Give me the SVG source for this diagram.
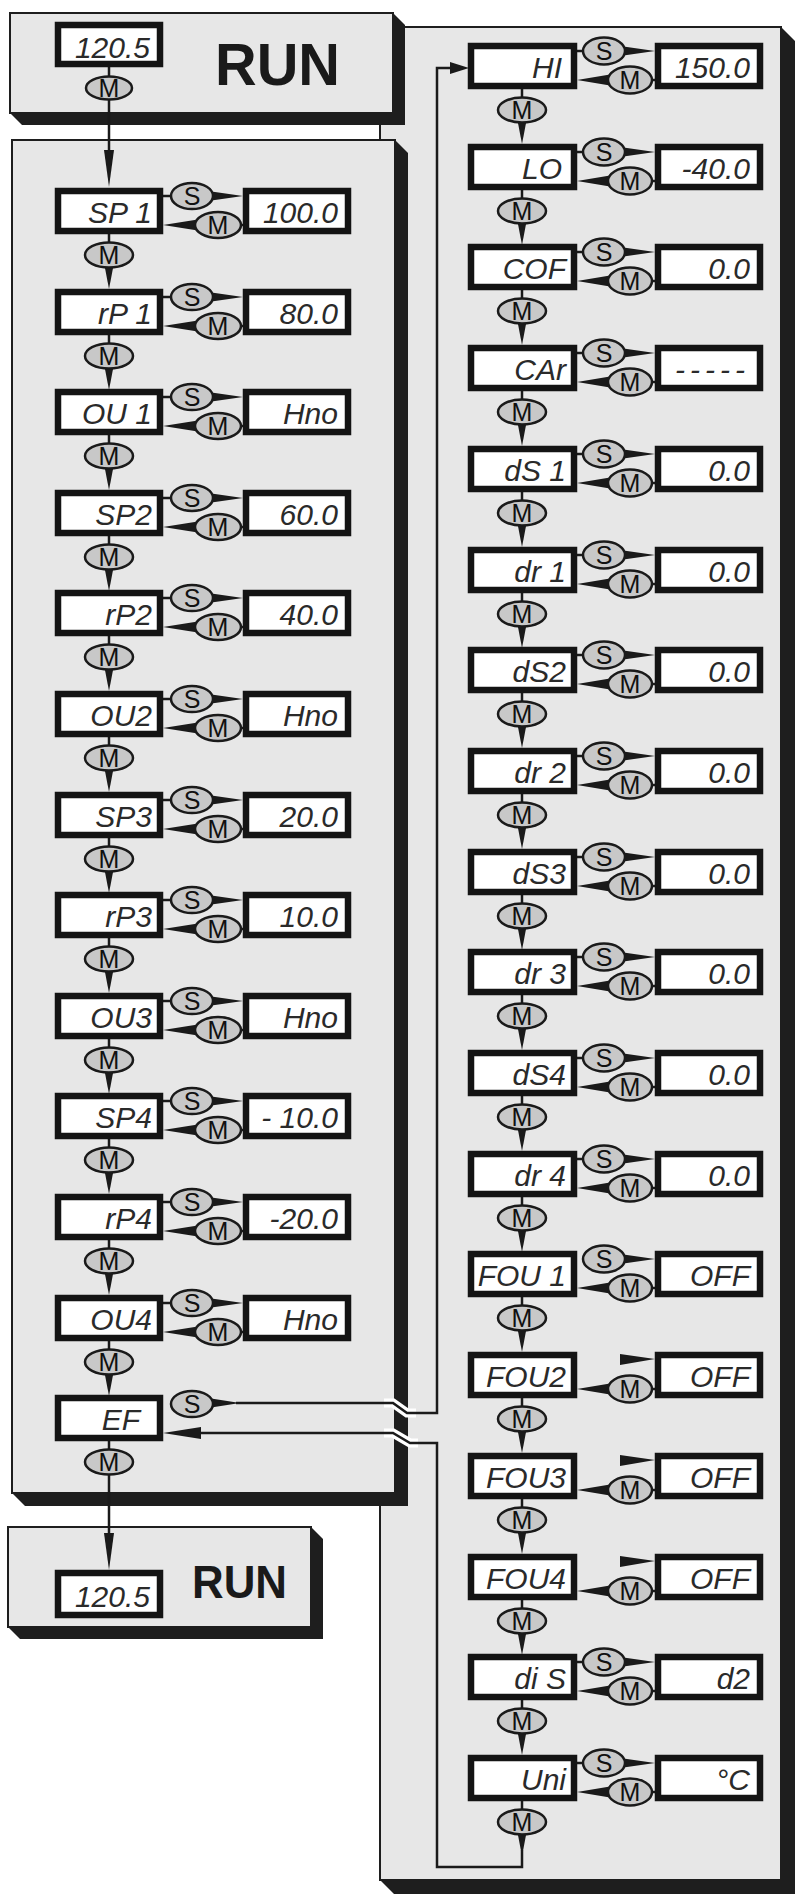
<svg xmlns="http://www.w3.org/2000/svg" width="798" height="1896" viewBox="0 0 798 1896">
<style>
.panel{fill:#e7e7e7;stroke:#1e1e1e;stroke-width:2}
.shadow{fill:#1e1e1e}
.disp{fill:#fff;stroke:#141414;stroke-width:6.5}
.dt{font-family:"Liberation Sans",Arial,sans-serif;font-style:italic;font-size:30px;fill:#2a2a2a;text-anchor:end}
.btn{fill:#c8c8c8;stroke:#1a1a1a;stroke-width:2.5}
.bt{font-family:"Liberation Sans",Arial,sans-serif;font-size:25px;fill:#111;text-anchor:middle}
.ln{stroke:#1a1a1a;stroke-width:2.5;fill:none}
.wd{fill:#1a1a1a}
.halo{stroke:#ffffff;stroke-width:9;fill:none}
.run{font-family:"Liberation Sans",Arial,sans-serif;font-weight:bold;fill:#1a1a1a}
</style>
<rect width="798" height="1896" fill="#ffffff"/>
<g id="panels">
<polygon class="shadow" points="380,1880 394,1894 795,1894 795,41 781,27"/>
<rect id="panel-right" class="panel" x="380" y="27" width="401" height="1853"/>
<polygon class="shadow" points="10,113 22,125 405,125 405,25 393,13"/>
<rect id="panel-run-top" class="panel" x="10" y="13" width="383" height="100"/>
<polygon class="shadow" points="12,1493 25,1506 408,1506 408,153 395,140"/>
<rect id="panel-left" class="panel" x="12" y="140" width="383" height="1353"/>
<polygon class="shadow" points="8,1627 20,1639 323,1639 323,1539 311,1527"/>
<rect id="panel-run-bottom" class="panel" x="8" y="1527" width="303" height="100"/>
</g>
<g id="connectors">
<line class="ln" x1="109" y1="64" x2="109" y2="152"/>
<polygon class="wd" points="104,150 109,187 114,150"/>
<ellipse class="btn" cx="109" cy="88" rx="23" ry="11.5"/>
<text class="bt" x="109" y="97">M</text>
<g id="c-SP1" transform="translate(0,188)"><line class="ln" x1="163" y1="8" x2="172" y2="8"/><polygon class="wd" points="208,3 243,8 208,13"/><polygon class="wd" points="201,31 163,37 201,43"/><line class="ln" x1="240" y1="37" x2="243" y2="37"/><ellipse class="btn" cx="192" cy="8" rx="21" ry="13"/><text class="bt" x="192" y="17">S</text><ellipse class="btn" cx="218" cy="37" rx="23" ry="13"/><text class="bt" x="218" y="46">M</text><line class="ln" x1="109" y1="46" x2="109" y2="56"/><polygon class="wd" points="104,75 109,101 114,75"/><ellipse class="btn" cx="109" cy="67" rx="24" ry="12.5"/><text class="bt" x="109" y="76">M</text></g>
<g id="c-rP1" transform="translate(0,289)"><line class="ln" x1="163" y1="8" x2="172" y2="8"/><polygon class="wd" points="208,3 243,8 208,13"/><polygon class="wd" points="201,31 163,37 201,43"/><line class="ln" x1="240" y1="37" x2="243" y2="37"/><ellipse class="btn" cx="192" cy="8" rx="21" ry="13"/><text class="bt" x="192" y="17">S</text><ellipse class="btn" cx="218" cy="37" rx="23" ry="13"/><text class="bt" x="218" y="46">M</text><line class="ln" x1="109" y1="46" x2="109" y2="56"/><polygon class="wd" points="104,75 109,101 114,75"/><ellipse class="btn" cx="109" cy="67" rx="24" ry="12.5"/><text class="bt" x="109" y="76">M</text></g>
<g id="c-OU1" transform="translate(0,389)"><line class="ln" x1="163" y1="8" x2="172" y2="8"/><polygon class="wd" points="208,3 243,8 208,13"/><polygon class="wd" points="201,31 163,37 201,43"/><line class="ln" x1="240" y1="37" x2="243" y2="37"/><ellipse class="btn" cx="192" cy="8" rx="21" ry="13"/><text class="bt" x="192" y="17">S</text><ellipse class="btn" cx="218" cy="37" rx="23" ry="13"/><text class="bt" x="218" y="46">M</text><line class="ln" x1="109" y1="46" x2="109" y2="56"/><polygon class="wd" points="104,75 109,101 114,75"/><ellipse class="btn" cx="109" cy="67" rx="24" ry="12.5"/><text class="bt" x="109" y="76">M</text></g>
<g id="c-SP2" transform="translate(0,490)"><line class="ln" x1="163" y1="8" x2="172" y2="8"/><polygon class="wd" points="208,3 243,8 208,13"/><polygon class="wd" points="201,31 163,37 201,43"/><line class="ln" x1="240" y1="37" x2="243" y2="37"/><ellipse class="btn" cx="192" cy="8" rx="21" ry="13"/><text class="bt" x="192" y="17">S</text><ellipse class="btn" cx="218" cy="37" rx="23" ry="13"/><text class="bt" x="218" y="46">M</text><line class="ln" x1="109" y1="46" x2="109" y2="56"/><polygon class="wd" points="104,75 109,101 114,75"/><ellipse class="btn" cx="109" cy="67" rx="24" ry="12.5"/><text class="bt" x="109" y="76">M</text></g>
<g id="c-rP2" transform="translate(0,590)"><line class="ln" x1="163" y1="8" x2="172" y2="8"/><polygon class="wd" points="208,3 243,8 208,13"/><polygon class="wd" points="201,31 163,37 201,43"/><line class="ln" x1="240" y1="37" x2="243" y2="37"/><ellipse class="btn" cx="192" cy="8" rx="21" ry="13"/><text class="bt" x="192" y="17">S</text><ellipse class="btn" cx="218" cy="37" rx="23" ry="13"/><text class="bt" x="218" y="46">M</text><line class="ln" x1="109" y1="46" x2="109" y2="56"/><polygon class="wd" points="104,75 109,101 114,75"/><ellipse class="btn" cx="109" cy="67" rx="24" ry="12.5"/><text class="bt" x="109" y="76">M</text></g>
<g id="c-OU2" transform="translate(0,691)"><line class="ln" x1="163" y1="8" x2="172" y2="8"/><polygon class="wd" points="208,3 243,8 208,13"/><polygon class="wd" points="201,31 163,37 201,43"/><line class="ln" x1="240" y1="37" x2="243" y2="37"/><ellipse class="btn" cx="192" cy="8" rx="21" ry="13"/><text class="bt" x="192" y="17">S</text><ellipse class="btn" cx="218" cy="37" rx="23" ry="13"/><text class="bt" x="218" y="46">M</text><line class="ln" x1="109" y1="46" x2="109" y2="56"/><polygon class="wd" points="104,75 109,101 114,75"/><ellipse class="btn" cx="109" cy="67" rx="24" ry="12.5"/><text class="bt" x="109" y="76">M</text></g>
<g id="c-SP3" transform="translate(0,792)"><line class="ln" x1="163" y1="8" x2="172" y2="8"/><polygon class="wd" points="208,3 243,8 208,13"/><polygon class="wd" points="201,31 163,37 201,43"/><line class="ln" x1="240" y1="37" x2="243" y2="37"/><ellipse class="btn" cx="192" cy="8" rx="21" ry="13"/><text class="bt" x="192" y="17">S</text><ellipse class="btn" cx="218" cy="37" rx="23" ry="13"/><text class="bt" x="218" y="46">M</text><line class="ln" x1="109" y1="46" x2="109" y2="56"/><polygon class="wd" points="104,75 109,101 114,75"/><ellipse class="btn" cx="109" cy="67" rx="24" ry="12.5"/><text class="bt" x="109" y="76">M</text></g>
<g id="c-rP3" transform="translate(0,892)"><line class="ln" x1="163" y1="8" x2="172" y2="8"/><polygon class="wd" points="208,3 243,8 208,13"/><polygon class="wd" points="201,31 163,37 201,43"/><line class="ln" x1="240" y1="37" x2="243" y2="37"/><ellipse class="btn" cx="192" cy="8" rx="21" ry="13"/><text class="bt" x="192" y="17">S</text><ellipse class="btn" cx="218" cy="37" rx="23" ry="13"/><text class="bt" x="218" y="46">M</text><line class="ln" x1="109" y1="46" x2="109" y2="56"/><polygon class="wd" points="104,75 109,101 114,75"/><ellipse class="btn" cx="109" cy="67" rx="24" ry="12.5"/><text class="bt" x="109" y="76">M</text></g>
<g id="c-OU3" transform="translate(0,993)"><line class="ln" x1="163" y1="8" x2="172" y2="8"/><polygon class="wd" points="208,3 243,8 208,13"/><polygon class="wd" points="201,31 163,37 201,43"/><line class="ln" x1="240" y1="37" x2="243" y2="37"/><ellipse class="btn" cx="192" cy="8" rx="21" ry="13"/><text class="bt" x="192" y="17">S</text><ellipse class="btn" cx="218" cy="37" rx="23" ry="13"/><text class="bt" x="218" y="46">M</text><line class="ln" x1="109" y1="46" x2="109" y2="56"/><polygon class="wd" points="104,75 109,101 114,75"/><ellipse class="btn" cx="109" cy="67" rx="24" ry="12.5"/><text class="bt" x="109" y="76">M</text></g>
<g id="c-SP4" transform="translate(0,1093)"><line class="ln" x1="163" y1="8" x2="172" y2="8"/><polygon class="wd" points="208,3 243,8 208,13"/><polygon class="wd" points="201,31 163,37 201,43"/><line class="ln" x1="240" y1="37" x2="243" y2="37"/><ellipse class="btn" cx="192" cy="8" rx="21" ry="13"/><text class="bt" x="192" y="17">S</text><ellipse class="btn" cx="218" cy="37" rx="23" ry="13"/><text class="bt" x="218" y="46">M</text><line class="ln" x1="109" y1="46" x2="109" y2="56"/><polygon class="wd" points="104,75 109,101 114,75"/><ellipse class="btn" cx="109" cy="67" rx="24" ry="12.5"/><text class="bt" x="109" y="76">M</text></g>
<g id="c-rP4" transform="translate(0,1194)"><line class="ln" x1="163" y1="8" x2="172" y2="8"/><polygon class="wd" points="208,3 243,8 208,13"/><polygon class="wd" points="201,31 163,37 201,43"/><line class="ln" x1="240" y1="37" x2="243" y2="37"/><ellipse class="btn" cx="192" cy="8" rx="21" ry="13"/><text class="bt" x="192" y="17">S</text><ellipse class="btn" cx="218" cy="37" rx="23" ry="13"/><text class="bt" x="218" y="46">M</text><line class="ln" x1="109" y1="46" x2="109" y2="56"/><polygon class="wd" points="104,75 109,101 114,75"/><ellipse class="btn" cx="109" cy="67" rx="24" ry="12.5"/><text class="bt" x="109" y="76">M</text></g>
<g id="c-OU4" transform="translate(0,1295)"><line class="ln" x1="163" y1="8" x2="172" y2="8"/><polygon class="wd" points="208,3 243,8 208,13"/><polygon class="wd" points="201,31 163,37 201,43"/><line class="ln" x1="240" y1="37" x2="243" y2="37"/><ellipse class="btn" cx="192" cy="8" rx="21" ry="13"/><text class="bt" x="192" y="17">S</text><ellipse class="btn" cx="218" cy="37" rx="23" ry="13"/><text class="bt" x="218" y="46">M</text><line class="ln" x1="109" y1="46" x2="109" y2="56"/><polygon class="wd" points="104,75 109,101 114,75"/><ellipse class="btn" cx="109" cy="67" rx="24" ry="12.5"/><text class="bt" x="109" y="76">M</text></g>
<g id="c-EF">
<path class="halo" d="M384 1403 L393 1403 L407 1413 L416 1413"/>
<path class="halo" d="M384 1433 L393 1433 L410 1443 L418 1443"/>
<path class="ln" d="M236 1403 L393 1403 L407 1413 L437 1413 L437 68 L452 68"/>
<polygon class="wd" points="450,62 469,68 450,74"/>
<polygon class="wd" points="208,1398 240,1403 208,1408"/>
<ellipse class="btn" cx="192" cy="1404" rx="21" ry="13"/><text class="bt" x="192" y="1413">S</text>
<path class="ln" d="M522 1850 L522 1867 L437 1867 L437 1443 L410 1443 L393 1433 L198 1433"/>
<polygon class="wd" points="163,1433 201,1427 201,1439"/>
<line class="ln" x1="109" y1="1437" x2="109" y2="1540"/>
<polygon class="wd" points="104,1533 109,1570 114,1533"/>
<ellipse class="btn" cx="109" cy="1462" rx="24" ry="12.5"/><text class="bt" x="109" y="1471">M</text>
</g>
<g id="c-HI" transform="translate(0,43)"><line class="ln" x1="577" y1="8" x2="584" y2="8"/><polygon class="wd" points="620,3 655,8 620,13"/><polygon class="wd" points="613,31 577,37 613,43"/><line class="ln" x1="651" y1="37" x2="655" y2="37"/><ellipse class="btn" cx="604" cy="8" rx="21" ry="13.5"/><text class="bt" x="604" y="17">S</text><ellipse class="btn" cx="630" cy="37" rx="22" ry="13.5"/><text class="bt" x="630" y="46">M</text><line class="ln" x1="522" y1="46" x2="522" y2="56"/><polygon class="wd" points="517,75 522,101 527,75"/><ellipse class="btn" cx="522" cy="67" rx="24" ry="12.5"/><text class="bt" x="522" y="76">M</text></g>
<g id="c-LO" transform="translate(0,144)"><line class="ln" x1="577" y1="8" x2="584" y2="8"/><polygon class="wd" points="620,3 655,8 620,13"/><polygon class="wd" points="613,31 577,37 613,43"/><line class="ln" x1="651" y1="37" x2="655" y2="37"/><ellipse class="btn" cx="604" cy="8" rx="21" ry="13.5"/><text class="bt" x="604" y="17">S</text><ellipse class="btn" cx="630" cy="37" rx="22" ry="13.5"/><text class="bt" x="630" y="46">M</text><line class="ln" x1="522" y1="46" x2="522" y2="56"/><polygon class="wd" points="517,75 522,101 527,75"/><ellipse class="btn" cx="522" cy="67" rx="24" ry="12.5"/><text class="bt" x="522" y="76">M</text></g>
<g id="c-COF" transform="translate(0,244)"><line class="ln" x1="577" y1="8" x2="584" y2="8"/><polygon class="wd" points="620,3 655,8 620,13"/><polygon class="wd" points="613,31 577,37 613,43"/><line class="ln" x1="651" y1="37" x2="655" y2="37"/><ellipse class="btn" cx="604" cy="8" rx="21" ry="13.5"/><text class="bt" x="604" y="17">S</text><ellipse class="btn" cx="630" cy="37" rx="22" ry="13.5"/><text class="bt" x="630" y="46">M</text><line class="ln" x1="522" y1="46" x2="522" y2="56"/><polygon class="wd" points="517,75 522,101 527,75"/><ellipse class="btn" cx="522" cy="67" rx="24" ry="12.5"/><text class="bt" x="522" y="76">M</text></g>
<g id="c-CAr" transform="translate(0,345)"><line class="ln" x1="577" y1="8" x2="584" y2="8"/><polygon class="wd" points="620,3 655,8 620,13"/><polygon class="wd" points="613,31 577,37 613,43"/><line class="ln" x1="651" y1="37" x2="655" y2="37"/><ellipse class="btn" cx="604" cy="8" rx="21" ry="13.5"/><text class="bt" x="604" y="17">S</text><ellipse class="btn" cx="630" cy="37" rx="22" ry="13.5"/><text class="bt" x="630" y="46">M</text><line class="ln" x1="522" y1="46" x2="522" y2="56"/><polygon class="wd" points="517,75 522,101 527,75"/><ellipse class="btn" cx="522" cy="67" rx="24" ry="12.5"/><text class="bt" x="522" y="76">M</text></g>
<g id="c-dS1" transform="translate(0,446)"><line class="ln" x1="577" y1="8" x2="584" y2="8"/><polygon class="wd" points="620,3 655,8 620,13"/><polygon class="wd" points="613,31 577,37 613,43"/><line class="ln" x1="651" y1="37" x2="655" y2="37"/><ellipse class="btn" cx="604" cy="8" rx="21" ry="13.5"/><text class="bt" x="604" y="17">S</text><ellipse class="btn" cx="630" cy="37" rx="22" ry="13.5"/><text class="bt" x="630" y="46">M</text><line class="ln" x1="522" y1="46" x2="522" y2="56"/><polygon class="wd" points="517,75 522,101 527,75"/><ellipse class="btn" cx="522" cy="67" rx="24" ry="12.5"/><text class="bt" x="522" y="76">M</text></g>
<g id="c-dr1" transform="translate(0,547)"><line class="ln" x1="577" y1="8" x2="584" y2="8"/><polygon class="wd" points="620,3 655,8 620,13"/><polygon class="wd" points="613,31 577,37 613,43"/><line class="ln" x1="651" y1="37" x2="655" y2="37"/><ellipse class="btn" cx="604" cy="8" rx="21" ry="13.5"/><text class="bt" x="604" y="17">S</text><ellipse class="btn" cx="630" cy="37" rx="22" ry="13.5"/><text class="bt" x="630" y="46">M</text><line class="ln" x1="522" y1="46" x2="522" y2="56"/><polygon class="wd" points="517,75 522,101 527,75"/><ellipse class="btn" cx="522" cy="67" rx="24" ry="12.5"/><text class="bt" x="522" y="76">M</text></g>
<g id="c-dS2" transform="translate(0,647)"><line class="ln" x1="577" y1="8" x2="584" y2="8"/><polygon class="wd" points="620,3 655,8 620,13"/><polygon class="wd" points="613,31 577,37 613,43"/><line class="ln" x1="651" y1="37" x2="655" y2="37"/><ellipse class="btn" cx="604" cy="8" rx="21" ry="13.5"/><text class="bt" x="604" y="17">S</text><ellipse class="btn" cx="630" cy="37" rx="22" ry="13.5"/><text class="bt" x="630" y="46">M</text><line class="ln" x1="522" y1="46" x2="522" y2="56"/><polygon class="wd" points="517,75 522,101 527,75"/><ellipse class="btn" cx="522" cy="67" rx="24" ry="12.5"/><text class="bt" x="522" y="76">M</text></g>
<g id="c-dr2" transform="translate(0,748)"><line class="ln" x1="577" y1="8" x2="584" y2="8"/><polygon class="wd" points="620,3 655,8 620,13"/><polygon class="wd" points="613,31 577,37 613,43"/><line class="ln" x1="651" y1="37" x2="655" y2="37"/><ellipse class="btn" cx="604" cy="8" rx="21" ry="13.5"/><text class="bt" x="604" y="17">S</text><ellipse class="btn" cx="630" cy="37" rx="22" ry="13.5"/><text class="bt" x="630" y="46">M</text><line class="ln" x1="522" y1="46" x2="522" y2="56"/><polygon class="wd" points="517,75 522,101 527,75"/><ellipse class="btn" cx="522" cy="67" rx="24" ry="12.5"/><text class="bt" x="522" y="76">M</text></g>
<g id="c-dS3" transform="translate(0,849)"><line class="ln" x1="577" y1="8" x2="584" y2="8"/><polygon class="wd" points="620,3 655,8 620,13"/><polygon class="wd" points="613,31 577,37 613,43"/><line class="ln" x1="651" y1="37" x2="655" y2="37"/><ellipse class="btn" cx="604" cy="8" rx="21" ry="13.5"/><text class="bt" x="604" y="17">S</text><ellipse class="btn" cx="630" cy="37" rx="22" ry="13.5"/><text class="bt" x="630" y="46">M</text><line class="ln" x1="522" y1="46" x2="522" y2="56"/><polygon class="wd" points="517,75 522,101 527,75"/><ellipse class="btn" cx="522" cy="67" rx="24" ry="12.5"/><text class="bt" x="522" y="76">M</text></g>
<g id="c-dr3" transform="translate(0,949)"><line class="ln" x1="577" y1="8" x2="584" y2="8"/><polygon class="wd" points="620,3 655,8 620,13"/><polygon class="wd" points="613,31 577,37 613,43"/><line class="ln" x1="651" y1="37" x2="655" y2="37"/><ellipse class="btn" cx="604" cy="8" rx="21" ry="13.5"/><text class="bt" x="604" y="17">S</text><ellipse class="btn" cx="630" cy="37" rx="22" ry="13.5"/><text class="bt" x="630" y="46">M</text><line class="ln" x1="522" y1="46" x2="522" y2="56"/><polygon class="wd" points="517,75 522,101 527,75"/><ellipse class="btn" cx="522" cy="67" rx="24" ry="12.5"/><text class="bt" x="522" y="76">M</text></g>
<g id="c-dS4" transform="translate(0,1050)"><line class="ln" x1="577" y1="8" x2="584" y2="8"/><polygon class="wd" points="620,3 655,8 620,13"/><polygon class="wd" points="613,31 577,37 613,43"/><line class="ln" x1="651" y1="37" x2="655" y2="37"/><ellipse class="btn" cx="604" cy="8" rx="21" ry="13.5"/><text class="bt" x="604" y="17">S</text><ellipse class="btn" cx="630" cy="37" rx="22" ry="13.5"/><text class="bt" x="630" y="46">M</text><line class="ln" x1="522" y1="46" x2="522" y2="56"/><polygon class="wd" points="517,75 522,101 527,75"/><ellipse class="btn" cx="522" cy="67" rx="24" ry="12.5"/><text class="bt" x="522" y="76">M</text></g>
<g id="c-dr4" transform="translate(0,1151)"><line class="ln" x1="577" y1="8" x2="584" y2="8"/><polygon class="wd" points="620,3 655,8 620,13"/><polygon class="wd" points="613,31 577,37 613,43"/><line class="ln" x1="651" y1="37" x2="655" y2="37"/><ellipse class="btn" cx="604" cy="8" rx="21" ry="13.5"/><text class="bt" x="604" y="17">S</text><ellipse class="btn" cx="630" cy="37" rx="22" ry="13.5"/><text class="bt" x="630" y="46">M</text><line class="ln" x1="522" y1="46" x2="522" y2="56"/><polygon class="wd" points="517,75 522,101 527,75"/><ellipse class="btn" cx="522" cy="67" rx="24" ry="12.5"/><text class="bt" x="522" y="76">M</text></g>
<g id="c-FOU1" transform="translate(0,1251)"><polygon class="wd" points="620,3 655,8 620,13"/><polygon class="wd" points="613,31 577,37 613,43"/><line class="ln" x1="651" y1="37" x2="655" y2="37"/><ellipse class="btn" cx="604" cy="8" rx="21" ry="13.5"/><text class="bt" x="604" y="17">S</text><ellipse class="btn" cx="630" cy="37" rx="22" ry="13.5"/><text class="bt" x="630" y="46">M</text><line class="ln" x1="522" y1="46" x2="522" y2="56"/><polygon class="wd" points="517,75 522,101 527,75"/><ellipse class="btn" cx="522" cy="67" rx="24" ry="12.5"/><text class="bt" x="522" y="76">M</text></g>
<g id="c-FOU2" transform="translate(0,1352)"><polygon class="wd" points="620,2 655,7 620,13"/><polygon class="wd" points="613,31 577,37 613,43"/><line class="ln" x1="651" y1="37" x2="655" y2="37"/><ellipse class="btn" cx="630" cy="37" rx="22" ry="13.5"/><text class="bt" x="630" y="46">M</text><line class="ln" x1="522" y1="46" x2="522" y2="56"/><polygon class="wd" points="517,75 522,101 527,75"/><ellipse class="btn" cx="522" cy="67" rx="24" ry="12.5"/><text class="bt" x="522" y="76">M</text></g>
<g id="c-FOU3" transform="translate(0,1453)"><polygon class="wd" points="620,2 655,7 620,13"/><polygon class="wd" points="613,31 577,37 613,43"/><line class="ln" x1="651" y1="37" x2="655" y2="37"/><ellipse class="btn" cx="630" cy="37" rx="22" ry="13.5"/><text class="bt" x="630" y="46">M</text><line class="ln" x1="522" y1="46" x2="522" y2="56"/><polygon class="wd" points="517,75 522,101 527,75"/><ellipse class="btn" cx="522" cy="67" rx="24" ry="12.5"/><text class="bt" x="522" y="76">M</text></g>
<g id="c-FOU4" transform="translate(0,1554)"><polygon class="wd" points="620,2 655,7 620,13"/><polygon class="wd" points="613,31 577,37 613,43"/><line class="ln" x1="651" y1="37" x2="655" y2="37"/><ellipse class="btn" cx="630" cy="37" rx="22" ry="13.5"/><text class="bt" x="630" y="46">M</text><line class="ln" x1="522" y1="46" x2="522" y2="56"/><polygon class="wd" points="517,75 522,101 527,75"/><ellipse class="btn" cx="522" cy="67" rx="24" ry="12.5"/><text class="bt" x="522" y="76">M</text></g>
<g id="c-diS" transform="translate(0,1654)"><line class="ln" x1="577" y1="8" x2="584" y2="8"/><polygon class="wd" points="620,3 655,8 620,13"/><polygon class="wd" points="613,31 577,37 613,43"/><line class="ln" x1="651" y1="37" x2="655" y2="37"/><ellipse class="btn" cx="604" cy="8" rx="21" ry="13.5"/><text class="bt" x="604" y="17">S</text><ellipse class="btn" cx="630" cy="37" rx="22" ry="13.5"/><text class="bt" x="630" y="46">M</text><line class="ln" x1="522" y1="46" x2="522" y2="56"/><polygon class="wd" points="517,75 522,101 527,75"/><ellipse class="btn" cx="522" cy="67" rx="24" ry="12.5"/><text class="bt" x="522" y="76">M</text></g>
<g id="c-Uni" transform="translate(0,1755)"><line class="ln" x1="577" y1="8" x2="584" y2="8"/><polygon class="wd" points="620,3 655,8 620,13"/><polygon class="wd" points="613,31 577,37 613,43"/><line class="ln" x1="651" y1="37" x2="655" y2="37"/><ellipse class="btn" cx="604" cy="8" rx="21" ry="13.5"/><text class="bt" x="604" y="17">S</text><ellipse class="btn" cx="630" cy="37" rx="22" ry="13.5"/><text class="bt" x="630" y="46">M</text><line class="ln" x1="522" y1="46" x2="522" y2="56"/><polygon class="wd" points="517,75 522,101 527,75"/><ellipse class="btn" cx="522" cy="67" rx="24" ry="12.5"/><text class="bt" x="522" y="76">M</text></g>
</g>
<g id="nodes">
<g id="run-top"><rect class="disp" x="58" y="25" width="102" height="39"/><text class="dt" x="150" y="58">120.5</text><text class="run" x="215" y="85" font-size="60" textLength="125" lengthAdjust="spacingAndGlyphs">RUN</text></g>
<g id="run-bottom"><rect class="disp" x="58" y="1573" width="102" height="42"/><text class="dt" x="150" y="1607">120.5</text><text class="run" x="192" y="1598" font-size="46" textLength="95" lengthAdjust="spacingAndGlyphs">RUN</text></g>
<g id="n-SP1"><rect class="disp" x="58" y="191" width="102" height="40"/><text class="dt" x="152" y="223">SP 1</text><rect class="disp" x="246" y="191" width="102" height="40"/><text class="dt" x="338" y="223">100.0</text></g>
<g id="n-rP1"><rect class="disp" x="58" y="292" width="102" height="40"/><text class="dt" x="152" y="324">rP 1</text><rect class="disp" x="246" y="292" width="102" height="40"/><text class="dt" x="338" y="324">80.0</text></g>
<g id="n-OU1"><rect class="disp" x="58" y="392" width="102" height="40"/><text class="dt" x="152" y="424">OU 1</text><rect class="disp" x="246" y="392" width="102" height="40"/><text class="dt" x="338" y="424">Hno</text></g>
<g id="n-SP2"><rect class="disp" x="58" y="493" width="102" height="40"/><text class="dt" x="152" y="525">SP2</text><rect class="disp" x="246" y="493" width="102" height="40"/><text class="dt" x="338" y="525">60.0</text></g>
<g id="n-rP2"><rect class="disp" x="58" y="593" width="102" height="40"/><text class="dt" x="152" y="625">rP2</text><rect class="disp" x="246" y="593" width="102" height="40"/><text class="dt" x="338" y="625">40.0</text></g>
<g id="n-OU2"><rect class="disp" x="58" y="694" width="102" height="40"/><text class="dt" x="152" y="726">OU2</text><rect class="disp" x="246" y="694" width="102" height="40"/><text class="dt" x="338" y="726">Hno</text></g>
<g id="n-SP3"><rect class="disp" x="58" y="795" width="102" height="40"/><text class="dt" x="152" y="827">SP3</text><rect class="disp" x="246" y="795" width="102" height="40"/><text class="dt" x="338" y="827">20.0</text></g>
<g id="n-rP3"><rect class="disp" x="58" y="895" width="102" height="40"/><text class="dt" x="152" y="927">rP3</text><rect class="disp" x="246" y="895" width="102" height="40"/><text class="dt" x="338" y="927">10.0</text></g>
<g id="n-OU3"><rect class="disp" x="58" y="996" width="102" height="40"/><text class="dt" x="152" y="1028">OU3</text><rect class="disp" x="246" y="996" width="102" height="40"/><text class="dt" x="338" y="1028">Hno</text></g>
<g id="n-SP4"><rect class="disp" x="58" y="1096" width="102" height="40"/><text class="dt" x="152" y="1128">SP4</text><rect class="disp" x="246" y="1096" width="102" height="40"/><text class="dt" x="338" y="1128">- 10.0</text></g>
<g id="n-rP4"><rect class="disp" x="58" y="1197" width="102" height="40"/><text class="dt" x="152" y="1229">rP4</text><rect class="disp" x="246" y="1197" width="102" height="40"/><text class="dt" x="338" y="1229">-20.0</text></g>
<g id="n-OU4"><rect class="disp" x="58" y="1298" width="102" height="40"/><text class="dt" x="152" y="1330">OU4</text><rect class="disp" x="246" y="1298" width="102" height="40"/><text class="dt" x="338" y="1330">Hno</text></g>
<g id="n-EF"><rect class="disp" x="58" y="1398" width="102" height="40"/><text class="dt" x="140" y="1430">EF</text></g>
<g id="n-HI"><rect class="disp" x="471" y="46" width="103" height="40"/><text class="dt" x="562" y="78">HI</text><rect class="disp" x="658" y="46" width="102" height="40"/><text class="dt" x="750" y="78">150.0</text></g>
<g id="n-LO"><rect class="disp" x="471" y="147" width="103" height="40"/><text class="dt" x="562" y="179">LO</text><rect class="disp" x="658" y="147" width="102" height="40"/><text class="dt" x="750" y="179">-40.0</text></g>
<g id="n-COF"><rect class="disp" x="471" y="247" width="103" height="40"/><text class="dt" x="566" y="279">COF</text><rect class="disp" x="658" y="247" width="102" height="40"/><text class="dt" x="750" y="279">0.0</text></g>
<g id="n-CAr"><rect class="disp" x="471" y="348" width="103" height="40"/><text class="dt" x="566" y="380">CAr</text><rect class="disp" x="658" y="348" width="102" height="40"/><text class="dt" x="750" y="380" letter-spacing="5">-----</text></g>
<g id="n-dS1"><rect class="disp" x="471" y="449" width="103" height="40"/><text class="dt" x="566" y="481">dS 1</text><rect class="disp" x="658" y="449" width="102" height="40"/><text class="dt" x="750" y="481">0.0</text></g>
<g id="n-dr1"><rect class="disp" x="471" y="550" width="103" height="40"/><text class="dt" x="566" y="582">dr 1</text><rect class="disp" x="658" y="550" width="102" height="40"/><text class="dt" x="750" y="582">0.0</text></g>
<g id="n-dS2"><rect class="disp" x="471" y="650" width="103" height="40"/><text class="dt" x="566" y="682">dS2</text><rect class="disp" x="658" y="650" width="102" height="40"/><text class="dt" x="750" y="682">0.0</text></g>
<g id="n-dr2"><rect class="disp" x="471" y="751" width="103" height="40"/><text class="dt" x="566" y="783">dr 2</text><rect class="disp" x="658" y="751" width="102" height="40"/><text class="dt" x="750" y="783">0.0</text></g>
<g id="n-dS3"><rect class="disp" x="471" y="852" width="103" height="40"/><text class="dt" x="566" y="884">dS3</text><rect class="disp" x="658" y="852" width="102" height="40"/><text class="dt" x="750" y="884">0.0</text></g>
<g id="n-dr3"><rect class="disp" x="471" y="952" width="103" height="40"/><text class="dt" x="566" y="984">dr 3</text><rect class="disp" x="658" y="952" width="102" height="40"/><text class="dt" x="750" y="984">0.0</text></g>
<g id="n-dS4"><rect class="disp" x="471" y="1053" width="103" height="40"/><text class="dt" x="566" y="1085">dS4</text><rect class="disp" x="658" y="1053" width="102" height="40"/><text class="dt" x="750" y="1085">0.0</text></g>
<g id="n-dr4"><rect class="disp" x="471" y="1154" width="103" height="40"/><text class="dt" x="566" y="1186">dr 4</text><rect class="disp" x="658" y="1154" width="102" height="40"/><text class="dt" x="750" y="1186">0.0</text></g>
<g id="n-FOU1"><rect class="disp" x="471" y="1254" width="103" height="40"/><text class="dt" x="566" y="1286">FOU 1</text><rect class="disp" x="658" y="1254" width="102" height="40"/><text class="dt" x="750" y="1286">OFF</text></g>
<g id="n-FOU2"><rect class="disp" x="471" y="1355" width="103" height="40"/><text class="dt" x="566" y="1387">FOU2</text><rect class="disp" x="658" y="1355" width="102" height="40"/><text class="dt" x="750" y="1387">OFF</text></g>
<g id="n-FOU3"><rect class="disp" x="471" y="1456" width="103" height="40"/><text class="dt" x="566" y="1488">FOU3</text><rect class="disp" x="658" y="1456" width="102" height="40"/><text class="dt" x="750" y="1488">OFF</text></g>
<g id="n-FOU4"><rect class="disp" x="471" y="1557" width="103" height="40"/><text class="dt" x="566" y="1589">FOU4</text><rect class="disp" x="658" y="1557" width="102" height="40"/><text class="dt" x="750" y="1589">OFF</text></g>
<g id="n-diS"><rect class="disp" x="471" y="1657" width="103" height="40"/><text class="dt" x="566" y="1689">di S</text><rect class="disp" x="658" y="1657" width="102" height="40"/><text class="dt" x="750" y="1689">d2</text></g>
<g id="n-Uni"><rect class="disp" x="471" y="1758" width="103" height="40"/><text class="dt" x="566" y="1790">Uni</text><rect class="disp" x="658" y="1758" width="102" height="40"/><text class="dt" x="750" y="1790">°C</text></g>
</g>
</svg>
